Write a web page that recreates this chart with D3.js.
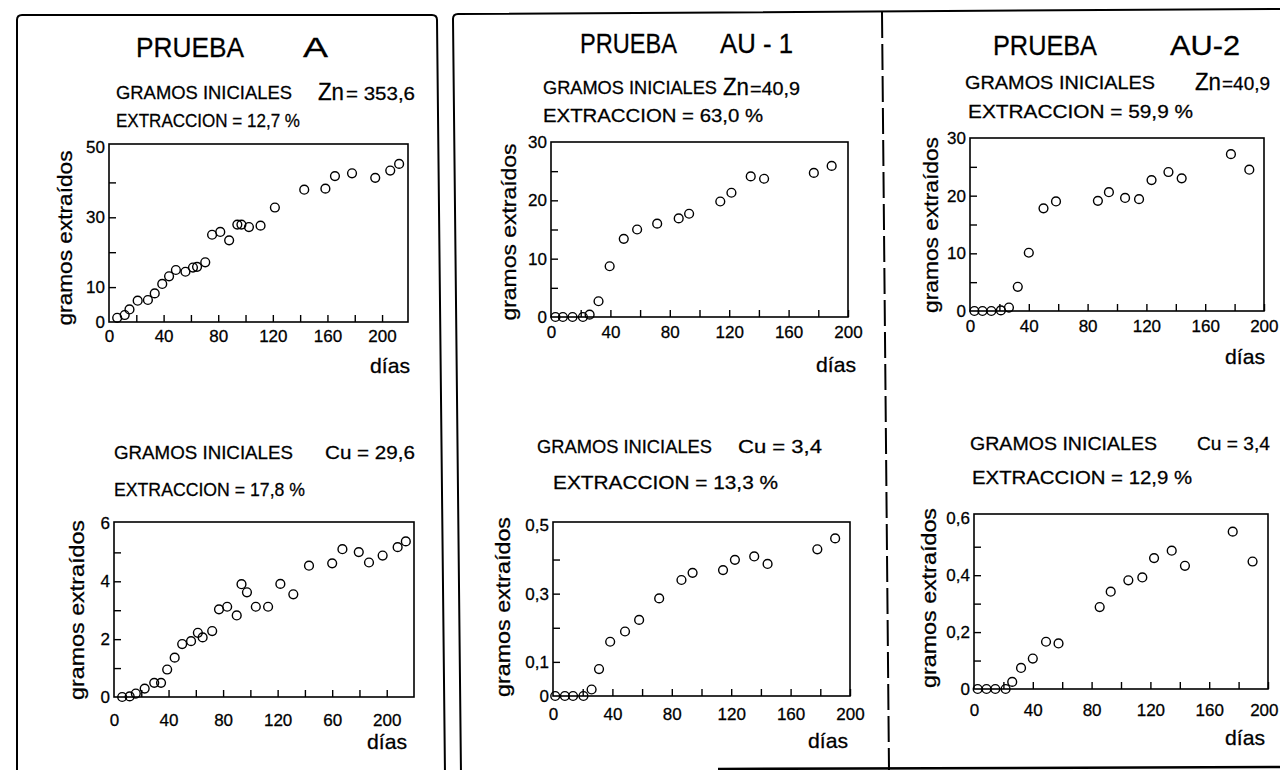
<!DOCTYPE html>
<html>
<head>
<meta charset="utf-8">
<script src="https://cdn.jsdelivr.net/npm/d3@7"></script>
<style>
  body { margin: 0; background: #fff; }
  svg { display: block; }
  text { font-family: 'Liberation Sans', Arial, sans-serif; fill: #000; stroke: #000; stroke-width: 0.28px; }
</style>
</head>
<body>
<svg id="chart" width="1280" height="770"></svg>
<script>
// ---- Prueba A: zinc ----
const diasA_Zn = [6, 11.5, 15, 21, 28.5, 33.5, 39, 44, 49, 56, 61.5, 64.5, 70.5, 75.5, 81.5, 88, 94, 97, 102.5, 111, 121.5, 143, 158.5, 165.5, 178, 195, 206, 212.5];
const gramosA_Zn = [1.2, 2.0, 3.6, 6.1, 6.3, 8.2, 10.9, 13.1, 14.9, 14.4, 15.6, 15.8, 17.1, 25.0, 25.8, 23.4, 27.9, 27.9, 27.2, 27.6, 32.8, 37.9, 38.2, 41.8, 42.6, 41.3, 43.4, 45.3];

// ---- Prueba A: cobre ----
const diasA_Cu = [6, 11.5, 16, 22.5, 29.5, 34.5, 39, 44.5, 50, 56.5, 61.5, 65, 72, 77, 83, 90, 93.5, 97.5, 104, 113, 122, 131.5, 143, 160, 167.5, 179.5, 187, 197, 208, 214];
const gramosA_Cu = [0, 0.02, 0.12, 0.29, 0.49, 0.49, 0.95, 1.36, 1.83, 1.93, 2.22, 2.06, 2.28, 3.03, 3.12, 2.82, 3.90, 3.62, 3.12, 3.12, 3.91, 3.55, 4.54, 4.62, 5.11, 5.01, 4.65, 4.89, 5.18, 5.38];

// ---- Prueba AU-1: zinc ----
const diasAU1_Zn = [3, 8, 14.5, 21.5, 26, 32, 39.5, 49, 58, 71.5, 86, 93, 114, 121.5, 134.5, 143.5, 177, 189];
const gramosAU1_Zn = [0, 0, 0, 0, 0.4, 2.7, 8.7, 13.4, 15.0, 16.0, 16.9, 17.7, 19.8, 21.3, 24.1, 23.7, 24.7, 25.9];

// ---- Prueba AU-1: cobre ----
const diasAU1_Cu = [1.5, 8, 13.5, 20.5, 26, 31, 38.5, 48.5, 58, 71.5, 86.5, 94, 114.5, 122.5, 135.5, 144.5, 178, 190];
const gramosAU1_Cu = [0, 0, 0, 0, 0.019, 0.079, 0.159, 0.189, 0.223, 0.286, 0.340, 0.361, 0.369, 0.399, 0.409, 0.387, 0.430, 0.462];

// ---- Prueba AU-2: zinc ----
const diasAU2_Zn = [3, 8.5, 14.5, 21, 26.5, 32.5, 40, 50, 58.5, 87, 94.5, 105.5, 115, 123.5, 135, 144, 177.5, 190];
const gramosAU2_Zn = [0, 0, 0, 0.1, 0.6, 4.2, 10.1, 17.8, 19.0, 19.1, 20.6, 19.6, 19.4, 22.7, 24.1, 23.0, 27.2, 24.5];

// ---- Prueba AU-2: cobre ----
const diasAU2_Cu = [2.5, 8.5, 14.5, 21.5, 26, 32, 40, 49, 57.5, 85.5, 93, 105, 114.5, 122.5, 134.5, 143.5, 176, 189.5];
const gramosAU2_Cu = [0, 0, 0, 0, 0.025, 0.074, 0.107, 0.166, 0.160, 0.288, 0.342, 0.382, 0.392, 0.460, 0.486, 0.433, 0.553, 0.448];

// ---- Ejes: marcas y rótulos ----
const xTicks = [20, 40, 60, 80, 100, 120, 140, 160, 180, 200];
const xLabelValues = [0, 40, 80, 120, 160, 200];
const xLabels = ["0", "40", "80", "120", "160", "200"];
const xLabelsA_Cu = ["0", "40", "80", "120", "60", "200"];

const yTicksA_Zn = [10, 20, 30, 40];
const yLabelValuesA_Zn = [0, 10, 30, 50];
const yLabelsA_Zn = ["0", "10", "30", "50"];

const yTicksZn = [5, 10, 15, 20, 25];
const yLabelValuesZn = [0, 10, 20, 30];
const yLabelsZn = ["0", "10", "20", "30"];

const yTicksA_Cu = [1, 2, 3, 4, 5];
const yLabelValuesA_Cu = [0, 2, 4, 6];
const yLabelsA_Cu = ["0", "2", "4", "6"];

const yTicksAU1_Cu = [0.1, 0.2, 0.3, 0.4];
const yLabelValuesAU1_Cu = [0, 0.1, 0.3, 0.5];
const yLabelsAU1_Cu = ["0", "0,1", "0,3", "0,5"];

const yTicksAU2_Cu = [0.1, 0.2, 0.3, 0.4, 0.5];
const yLabelValuesAU2_Cu = [0, 0.2, 0.4, 0.6];
const yLabelsAU2_Cu = ["0", "0,2", "0,4", "0,6"];

const svg = d3.select("#chart");
const FONT = "'Liberation Sans', Arial, sans-serif";
const W = 1280;

// ---- Marcos del cuadro ----
const frame = svg.append("g").attr("fill", "none").attr("stroke", "#000").attr("stroke-width", 2);
frame.append("path").attr("d", "M17,775 L17,20 Q17,15 22,15 L432,15 Q437,15 437,20 L445,775");
frame.append("path").attr("d", "M461,775 L453,19 Q453,14 458,14 L1280,9");
frame.append("path").attr("d", "M882,12 L889,770").attr("stroke-dasharray", "26,6");
frame.append("path").attr("d", "M718,769 L1280,767").attr("stroke-width", 2.5);

// ---- Paneles ----
const panels = [
  {
    dias: diasA_Zn, gramos: gramosA_Zn,
    xDom: [0, 219], xRange: [109, 408], yDom: [0, 51], yRange: [322, 144],
    yTicks: yTicksA_Zn, yLabelValues: yLabelValuesA_Zn, yLabels: yLabelsA_Zn, xLabels: xLabels,
    xLabelDy: 20, dias_: [370, 373], yTitle: [64, 238, 175],
    texts: [
      { t: "PRUEBA", x: 136, y: 57, s: 28, w: 108 },
      { t: "A", x: 303, y: 57, s: 28, w: 25 },
      { t: "GRAMOS INICIALES", x: 116, y: 99, s: 19, w: 176 },
      { t: "Zn", x: 318, y: 100, s: 23, w: 26 },
      { t: "= 353,6", x: 346, y: 100, s: 19, w: 69 },
      { t: "EXTRACCION = 12,7 %", x: 116, y: 127, s: 19, w: 184 }
    ]
  },
  {
    dias: diasA_Cu, gramos: gramosA_Cu,
    xDom: [0, 220], xRange: [114, 414], yDom: [0, 6.05], yRange: [697, 522],
    yTicks: yTicksA_Cu, yLabelValues: yLabelValuesA_Cu, yLabels: yLabelsA_Cu, xLabels: xLabelsA_Cu,
    xLabelDy: 29, dias_: [367, 749], yTitle: [76, 610, 180],
    texts: [
      { t: "GRAMOS INICIALES", x: 114, y: 459, s: 19, w: 179 },
      { t: "Cu = 29,6", x: 325, y: 459, s: 19, w: 90 },
      { t: "EXTRACCION = 17,8 %", x: 114, y: 496, s: 19, w: 191 }
    ]
  },
  {
    dias: diasAU1_Zn, gramos: gramosAU1_Zn,
    xDom: [0, 200], xRange: [551, 848], yDom: [0, 30], yRange: [317, 142],
    yTicks: yTicksZn, yLabelValues: yLabelValuesZn, yLabels: yLabelsZn, xLabels: xLabels,
    xLabelDy: 21, dias_: [816, 372], yTitle: [508, 232, 177],
    texts: [
      { t: "PRUEBA", x: 580, y: 53, s: 28, w: 97 },
      { t: "AU - 1", x: 720, y: 53, s: 28, w: 73 },
      { t: "GRAMOS INICIALES", x: 543, y: 94, s: 19, w: 174 },
      { t: "Zn", x: 723, y: 95, s: 23, w: 26 },
      { t: "=40,9", x: 750, y: 95, s: 19, w: 50 },
      { t: "EXTRACCION = 63,0 %", x: 543, y: 122, s: 19, w: 220 }
    ]
  },
  {
    dias: diasAU1_Cu, gramos: gramosAU1_Cu,
    xDom: [0, 200], xRange: [553, 850], yDom: [0, 0.51], yRange: [696, 522],
    yTicks: yTicksAU1_Cu, yLabelValues: yLabelValuesAU1_Cu, yLabels: yLabelsAU1_Cu, xLabels: xLabels,
    xLabelDy: 24, dias_: [808, 748], yTitle: [502, 607, 180],
    texts: [
      { t: "GRAMOS INICIALES", x: 537, y: 453, s: 19, w: 175 },
      { t: "Cu = 3,4", x: 738, y: 453, s: 19, w: 84 },
      { t: "EXTRACCION = 13,3 %", x: 553, y: 489, s: 19, w: 225 }
    ]
  },
  {
    dias: diasAU2_Zn, gramos: gramosAU2_Zn,
    xDom: [0, 200], xRange: [970, 1264], yDom: [0, 30], yRange: [311, 138],
    yTicks: yTicksZn, yLabelValues: yLabelValuesZn, yLabels: yLabelsZn, xLabels: xLabels,
    xLabelDy: 21, dias_: [1225, 364], yTitle: [930, 225, 176],
    texts: [
      { t: "PRUEBA", x: 993, y: 55, s: 28, w: 104 },
      { t: "AU-2", x: 1170, y: 55, s: 28, w: 70 },
      { t: "GRAMOS INICIALES", x: 965, y: 89, s: 19, w: 190 },
      { t: "Zn", x: 1195, y: 90, s: 23, w: 26 },
      { t: "=40,9", x: 1222, y: 90, s: 19, w: 48 },
      { t: "EXTRACCION = 59,9 %", x: 968, y: 118, s: 19, w: 225 }
    ]
  },
  {
    dias: diasAU2_Cu, gramos: gramosAU2_Cu,
    xDom: [0, 200], xRange: [974, 1268], yDom: [0, 0.615], yRange: [689, 514],
    yTicks: yTicksAU2_Cu, yLabelValues: yLabelValuesAU2_Cu, yLabels: yLabelsAU2_Cu, xLabels: xLabels,
    xLabelDy: 27, dias_: [1225, 745], yTitle: [928, 598, 180],
    texts: [
      { t: "GRAMOS INICIALES", x: 970, y: 450, s: 19, w: 187 },
      { t: "Cu = 3,4", x: 1197, y: 450, s: 19, w: 73 },
      { t: "EXTRACCION = 12,9 %", x: 972, y: 484, s: 19, w: 220 }
    ]
  }
];

panels.forEach(p => {
  const g = svg.append("g");
  const x = d3.scaleLinear().domain(p.xDom).range(p.xRange);
  const y = d3.scaleLinear().domain(p.yDom).range(p.yRange);

  // encabezados
  p.texts.forEach(d => {
    g.append("text")
      .attr("x", d.x).attr("y", d.y)
      .attr("font-size", d.s)
      .attr("textLength", d.w)
      .attr("lengthAdjust", "spacingAndGlyphs")
      .text(d.t);
  });

  // marcas del eje x (hacia adentro)
  const xTickAxis = d3.axisBottom(x).tickValues(xTicks).tickSize(-7).tickFormat("");
  g.append("g").attr("transform", `translate(0,${p.yRange[0]})`).call(xTickAxis)
    .call(a => a.select(".domain").remove())
    .call(a => a.selectAll("line").attr("stroke", "#000").attr("stroke-width", 1.4));

  // rótulos del eje x (el último se recorre si no cabe en la hoja)
  const xLabelAxis = d3.axisBottom(x).tickValues(xLabelValues).tickSize(0)
    .tickFormat((v, i) => p.xLabels[i]);
  g.append("g").attr("transform", `translate(0,${p.yRange[0]})`).call(xLabelAxis)
    .call(a => a.select(".domain").remove())
    .call(a => a.selectAll("text").attr("y", p.xLabelDy).attr("dy", 0)
      .attr("font-size", 17).attr("fill", "#000").style("font-family", FONT))
    .call(a => a.selectAll(".tick").each(function(v) {
      const t = d3.select(this).select("text");
      const half = t.node().getComputedTextLength() / 2;
      const over = x(v) + half - (W - 2);
      if (over > 0) t.attr("x", -over);
    }));

  // marcas del eje y (hacia adentro)
  const yTickAxis = d3.axisLeft(y).tickValues(p.yTicks).tickSize(-7).tickFormat("");
  g.append("g").attr("transform", `translate(${p.xRange[0]},0)`).call(yTickAxis)
    .call(a => a.select(".domain").remove())
    .call(a => a.selectAll("line").attr("stroke", "#000").attr("stroke-width", 1.4));

  // rótulos del eje y
  const yLabelAxis = d3.axisLeft(y).tickValues(p.yLabelValues).tickSize(0).tickPadding(4)
    .tickFormat((v, i) => p.yLabels[i]);
  g.append("g").attr("transform", `translate(${p.xRange[0]},0)`).call(yLabelAxis)
    .call(a => a.select(".domain").remove())
    .call(a => a.selectAll("text").attr("font-size", 17).attr("fill", "#000").style("font-family", FONT));

  // recuadro del gráfico
  g.append("rect")
    .attr("x", p.xRange[0]).attr("y", p.yRange[1])
    .attr("width", p.xRange[1] - p.xRange[0]).attr("height", p.yRange[0] - p.yRange[1])
    .attr("fill", "none").attr("stroke", "#000").attr("stroke-width", 1.6);

  // puntos medidos
  g.append("g").selectAll("circle")
    .data(p.dias.map((d, i) => [d, p.gramos[i]]))
    .join("circle")
    .attr("cx", d => x(d[0])).attr("cy", d => y(d[1]))
    .attr("r", 4.4)
    .attr("fill", "none").attr("stroke", "#000").attr("stroke-width", 1.4);

  // título del eje y
  g.append("text")
    .attr("transform", `translate(${p.yTitle[0]},${p.yTitle[1]}) rotate(-90)`)
    .attr("text-anchor", "middle").attr("dominant-baseline", "central")
    .attr("font-size", 21)
    .attr("textLength", p.yTitle[2]).attr("lengthAdjust", "spacingAndGlyphs")
    .text("gramos extraídos");

  // título del eje x
  g.append("text")
    .attr("x", p.dias_[0]).attr("y", p.dias_[1])
    .attr("font-size", 21)
    .attr("textLength", 40).attr("lengthAdjust", "spacingAndGlyphs")
    .text("días");
});
</script>
</body>
</html>
